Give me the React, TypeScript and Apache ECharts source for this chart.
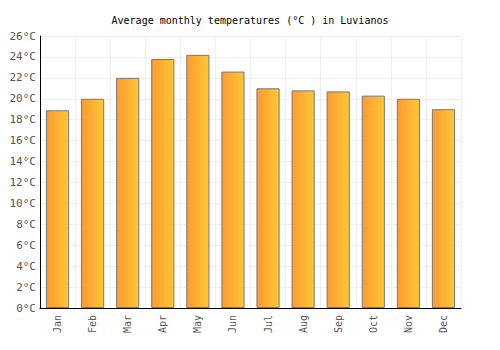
import React, { useEffect, useRef } from "react";
import * as echarts from "echarts";

const months = ["Jan", "Feb", "Mar", "Apr", "May", "Jun", "Jul", "Aug", "Sep", "Oct", "Nov", "Dec"];
const temps = [18.9, 20.0, 22.0, 23.8, 24.2, 22.6, 21.0, 20.8, 20.7, 20.3, 20.0, 19.0];
const titleText = "Average monthly temperatures (°C ) in Luvianos";

export default function App() {
  const ref = useRef<HTMLDivElement>(null);
  useEffect(() => {
    if (!ref.current) return;
    const chart = echarts.init(ref.current, null, { renderer: "svg" });
    const font = "'DejaVu Sans Mono', monospace";
    chart.setOption({
      animation: false,
      title: {
        text: titleText,
        left: "center",
        top: 10,
        textStyle: { fontFamily: font, fontSize: 10, fontWeight: "normal", color: "#000" },
      },
      grid: { left: 40, right: 39, top: 36, bottom: 42 },
      xAxis: {
        type: "category",
        data: months,
        axisLine: { lineStyle: { color: "#000", width: 1 } },
        axisTick: { show: false },
        axisLabel: { rotate: 90, color: "#555", fontFamily: font, fontSize: 10, margin: 7 },
        splitLine: { show: true, lineStyle: { color: "#eee", width: 1 } },
      },
      yAxis: {
        type: "value",
        min: 0,
        max: 26,
        interval: 2,
        axisLine: { show: true, lineStyle: { color: "#000", width: 1 } },
        axisTick: { show: false },
        axisLabel: { formatter: "{value}°C", color: "#555", fontFamily: font, fontSize: 11, margin: 4 },
        splitLine: { show: true, lineStyle: { color: "#eee", width: 1 } },
      },
      series: [
        {
          type: "bar",
          data: temps,
          barCategoryGap: "34%",
          itemStyle: {
            color: new echarts.graphic.LinearGradient(0, 0, 1, 0, [
              { offset: 0, color: "#ff9a30" },
              { offset: 1, color: "#ffc835" },
            ]),
            borderColor: "#777",
            borderWidth: 1,
          },
        },
      ],
    });
    return () => chart.dispose();
  }, []);
  return <div ref={ref} style={{ width: 500, height: 350, position: "absolute", left: 0, top: 0 }} />;
}
